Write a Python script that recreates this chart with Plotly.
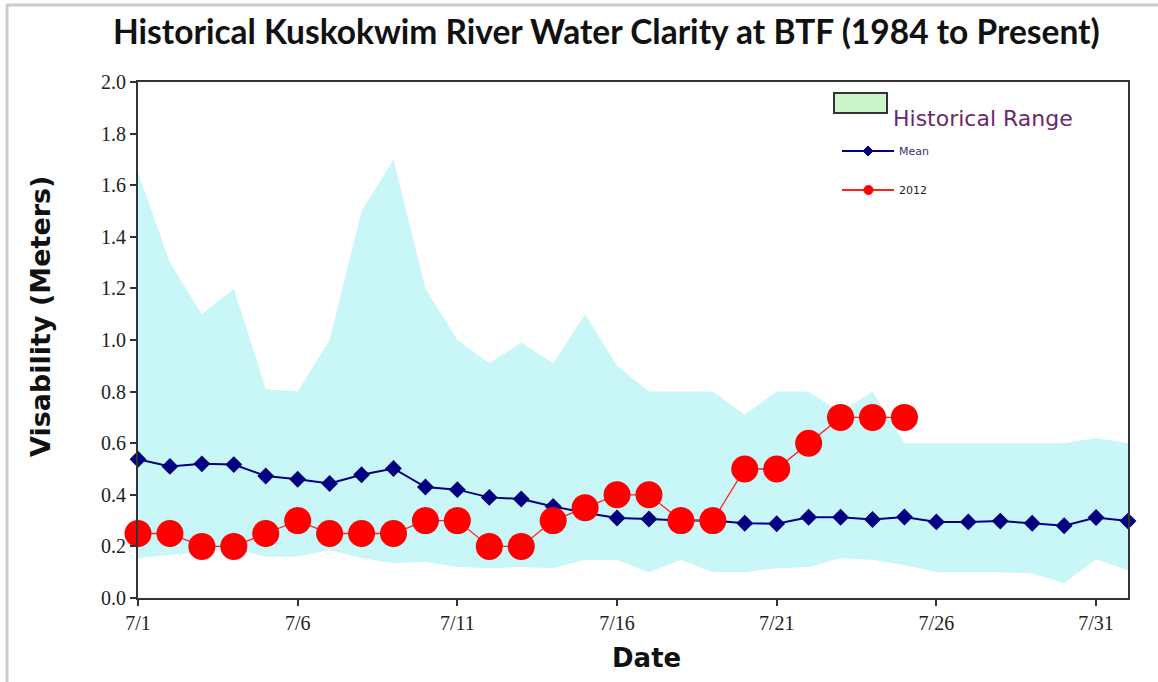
import plotly.graph_objects as go
import pandas as pd

# ---- data ----
dates = pd.date_range("2012-07-01", "2012-08-01", freq="D")
hist_low = [0.155, 0.167, 0.18, 0.19, 0.16, 0.16, 0.186, 0.155, 0.135, 0.14, 0.12, 0.115,
            0.12, 0.115, 0.147, 0.147, 0.10, 0.147, 0.10, 0.10, 0.115, 0.12, 0.155, 0.147,
            0.128, 0.10, 0.10, 0.10, 0.095, 0.057, 0.15, 0.108]
hist_high = [1.65, 1.30, 1.10, 1.20, 0.81, 0.80, 1.00, 1.50, 1.70, 1.20, 1.00, 0.91,
             0.99, 0.91, 1.10, 0.90, 0.80, 0.80, 0.80, 0.71, 0.80, 0.80, 0.72, 0.80,
             0.60, 0.60, 0.60, 0.60, 0.60, 0.60, 0.62, 0.60]
mean_vals = [0.538, 0.51, 0.52, 0.517, 0.473, 0.46, 0.444, 0.478, 0.502, 0.43, 0.42, 0.39,
             0.384, 0.355, 0.33, 0.31, 0.306, 0.30, 0.30, 0.29, 0.288, 0.313, 0.313, 0.304,
             0.314, 0.295, 0.295, 0.298, 0.29, 0.28, 0.312, 0.298]
dates_2012 = dates[:25]
vals_2012 = [0.25, 0.25, 0.20, 0.20, 0.25, 0.30, 0.25, 0.25, 0.25, 0.30, 0.30, 0.20,
             0.20, 0.30, 0.35, 0.40, 0.40, 0.30, 0.30, 0.50, 0.50, 0.60, 0.70, 0.70, 0.70]

title_text = "Historical Kuskokwim River Water Clarity at BTF (1984 to Present)"

# pixel geometry helpers (plot area 138..1128 x, 82..598 y)
L, R, T, B = 138, 1128, 82, 598
def px(x):
    return (x - L) / (R - L)
def py(y):
    return (B - y) / (B - T)

fig = go.Figure()
fig.add_trace(go.Scatter(x=dates, y=hist_low, mode="lines", line=dict(width=0),
                         showlegend=False, hoverinfo="skip"))
fig.add_trace(go.Scatter(x=dates, y=hist_high, mode="lines", line=dict(width=0),
                         fill="tonexty", fillcolor="#c9f7f7", name="Historical Range",
                         showlegend=False))
fig.add_trace(go.Scatter(x=dates, y=mean_vals, mode="lines+markers", name="Mean",
                         line=dict(color="#000080", width=2),
                         marker=dict(symbol="diamond", size=13, color="#000080"),
                         cliponaxis=False, showlegend=False))
fig.add_trace(go.Scatter(x=dates_2012, y=vals_2012, mode="lines+markers", name="2012",
                         line=dict(color="#ff2020", width=1.3),
                         marker=dict(symbol="circle", size=27, color="#ff0000"),
                         cliponaxis=False, showlegend=False))

shapes = []
annotations = []
# outer grey frame (top and left)
shapes.append(dict(type="line", xref="paper", yref="paper", x0=px(6), x1=px(1158),
                   y0=py(5), y1=py(5), line=dict(color="#cccccc", width=3)))
shapes.append(dict(type="line", xref="paper", yref="paper", x0=px(7), x1=px(7),
                   y0=py(5), y1=py(682), line=dict(color="#cccccc", width=3)))
# legend: Historical Range box
shapes.append(dict(type="rect", xref="paper", yref="paper", x0=px(834), x1=px(887),
                   y0=py(113), y1=py(93), fillcolor="#ccf5cc",
                   line=dict(color="#333333", width=2)))
annotations.append(dict(text="Historical Range", xref="paper", yref="paper",
                        x=px(891), y=py(118), xanchor="left", yanchor="middle",
                        showarrow=False, font=dict(family="DejaVu Sans", size=22,
                                                   color="#6a2a6a")))
# legend: Mean
shapes.append(dict(type="line", xref="paper", yref="paper", x0=px(842), x1=px(894),
                   y0=py(151), y1=py(151), line=dict(color="#000080", width=2)))
shapes.append(dict(type="path", xref="paper", yref="paper",
                   path=f"M {px(868)} {py(146)} L {px(873)} {py(151)} L {px(868)} {py(156)} L {px(863)} {py(151)} Z",
                   fillcolor="#000080", line=dict(color="#000080", width=1)))
annotations.append(dict(text="Mean", xref="paper", yref="paper", x=px(897), y=py(151),
                        xanchor="left", yanchor="middle", showarrow=False,
                        font=dict(family="DejaVu Sans", size=11, color="#333366")))
# legend: 2012
shapes.append(dict(type="line", xref="paper", yref="paper", x0=px(842), x1=px(894),
                   y0=py(190), y1=py(190), line=dict(color="#ff2020", width=2)))
shapes.append(dict(type="circle", xref="paper", yref="paper", x0=px(864), x1=px(873),
                   y0=py(185.5), y1=py(194.5), fillcolor="#ff0000",
                   line=dict(color="#ff0000", width=1)))
annotations.append(dict(text="2012", xref="paper", yref="paper", x=px(897), y=py(190),
                        xanchor="left", yanchor="middle", showarrow=False,
                        font=dict(family="DejaVu Sans", size=11, color="#222222")))
# title
annotations.append(dict(text=f"<b>{title_text}</b>", xref="paper", yref="paper",
                        x=px(606), y=py(31), xanchor="center", yanchor="middle",
                        showarrow=False, font=dict(family="Lato", size=33.5, color="#111111")))
# y-axis title
annotations.append(dict(text="<b>Visability (Meters)</b>", xref="paper", yref="paper",
                        x=px(40), y=py(317), xanchor="center", yanchor="middle",
                        textangle=-90, showarrow=False,
                        font=dict(family="DejaVu Sans", size=27, color="#111111")))
# x-axis title
annotations.append(dict(text="<b>Date</b>", xref="paper", yref="paper",
                        x=px(646), y=py(658), xanchor="center", yanchor="middle",
                        showarrow=False,
                        font=dict(family="DejaVu Sans", size=26, color="#111111")))

fig.update_layout(
    width=1158, height=682,
    margin=dict(l=L, r=1158 - R, t=T, b=682 - B),
    paper_bgcolor="white", plot_bgcolor="white",
    shapes=shapes, annotations=annotations,
    showlegend=False,
)
fig.update_xaxes(
    type="date", range=[dates[0], dates[-1]],
    tick0="2012-07-01", dtick=5 * 86400000, tickformat="%-m/%-d",
    ticks="outside", ticklen=6, tickwidth=2, tickcolor="#333333",
    showline=True, linecolor="#333333", linewidth=2, mirror=True,
    showgrid=False, zeroline=False,
    tickfont=dict(family="Liberation Serif", size=20, color="#222222"),
)
fig.update_yaxes(
    range=[0, 2], dtick=0.2, tickformat=".1f",
    ticks="outside", ticklen=6, tickwidth=2, tickcolor="#333333",
    showline=True, linecolor="#333333", linewidth=2, mirror=True,
    showgrid=False, zeroline=False,
    tickfont=dict(family="Liberation Serif", size=20, color="#222222"),
)

fig.write_html("out.html", post_script="document.body.style.margin='0';",
               config={"displayModeBar": False})
